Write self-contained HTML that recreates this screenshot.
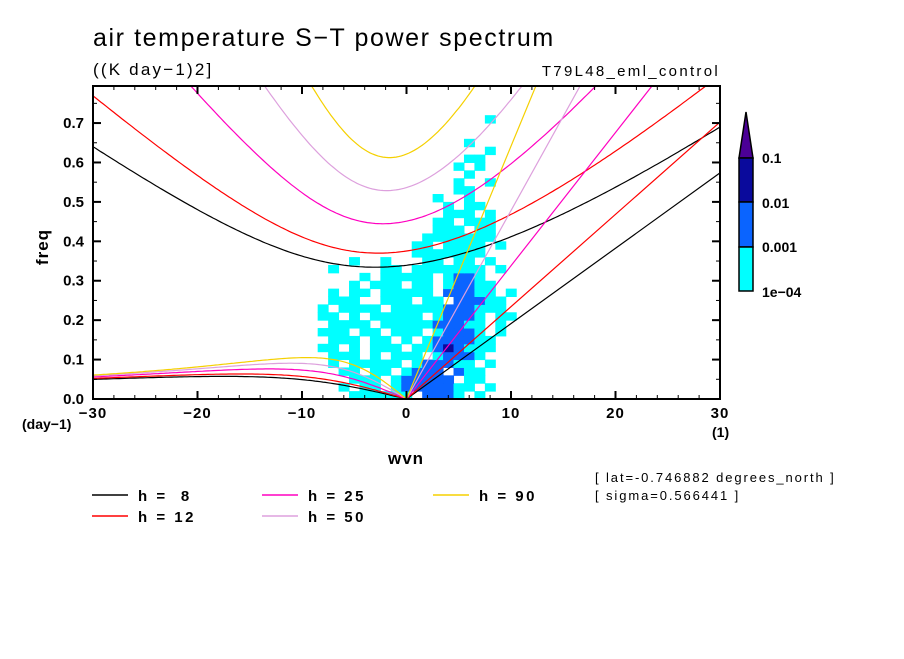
<!DOCTYPE html>
<html><head><meta charset="utf-8"><style>
html,body{margin:0;padding:0;background:#fff;}
svg text{font-family:"Liberation Sans","DejaVu Sans",sans-serif;fill:#000;}
</style></head><body>
<svg id="chart" width="904" height="654" viewBox="0 0 904 654" xmlns="http://www.w3.org/2000/svg">
<defs><clipPath id="clip"><rect x="93" y="86" width="627" height="313"/></clipPath></defs>
<text x="93" y="46" font-size="25" letter-spacing="1.6">air temperature S−T power spectrum</text>
<text x="93" y="75" font-size="17" letter-spacing="2.2">((K day−1)2]</text>
<text x="720" y="76" font-size="15" letter-spacing="2.3" text-anchor="end">T79L48_eml_control</text>
<g id="cells" clip-path="url(#clip)"></g>
<g id="curves" clip-path="url(#clip)"></g>
<g id="axes"></g>
<text x="0" y="0" font-size="17" font-weight="bold" letter-spacing="1" transform="translate(48,247) rotate(-90)" text-anchor="middle">freq</text>
<text x="406" y="464" font-size="17" font-weight="bold" letter-spacing="1" text-anchor="middle">wvn</text>
<text x="22" y="429" font-size="14" font-weight="bold">(day−1)</text>
<text x="712" y="437" font-size="14" font-weight="bold">(1)</text>
<g>
<polygon points="739,158 746,112 753,158" fill="#4b0096" stroke="#000" stroke-width="1.5"/>
<rect x="739" y="158" width="14" height="44" fill="#0a0a9c" stroke="#000" stroke-width="1.5"/>
<rect x="739" y="202" width="14" height="45" fill="#0a64ff" stroke="#000" stroke-width="1.5"/>
<rect x="739" y="247" width="14" height="44" fill="#00ffff" stroke="#000" stroke-width="1.5"/>
<text x="762" y="163" font-size="14" font-weight="bold">0.1</text>
<text x="762" y="208" font-size="14" font-weight="bold">0.01</text>
<text x="762" y="252" font-size="14" font-weight="bold">0.001</text>
<text x="762" y="297" font-size="14" font-weight="bold">1e−04</text>
</g>
<text x="595" y="482" font-size="13" letter-spacing="1.9">[ lat=-0.746882 degrees_north ]</text>
<text x="595" y="500" font-size="13" letter-spacing="1.9">[ sigma=0.566441 ]</text>
<g id="legend"></g>
</svg>
<script>
// data
const depths = [8, 12, 25, 50, 90];
const depthColors = ["#000000", "#ff0000", "#ff00c0", "#dda0dd", "#f5d000"];
const xTicks = [-30, -20, -10, 0, 10, 20, 30];
const yTicks = [0.0, 0.1, 0.2, 0.3, 0.4, 0.5, 0.6, 0.7];
const cellK0 = -9;        // first wavenumber column
const cellDf = 0.02;      // frequency bin size
// rows from freq 0 upward; columns k=-9..12; 1=cyan 2=blue 3=dark blue
const cellRows = [
"    111111 2221 1     ",
"   1 11 12222211 1    ",
"    111 122222 11     ",
"   11 11 1222 211     ",
"  1 11111 122211 1    ",
"  111 1 111 12221     ",
" 11 1 111 11232111    ",
"  111 11 1 1222211    ",
" 111 11 111 12221 1   ",
"  1111 1111122211 1   ",
" 11 1 11111 12221 11  ",
" 1 1111 11111222111   ",
"  111  111 11 22211   ",
"  1 11 11111 22211 1  ",
"    1 111 11 12211    ",
"     1 11111 1221     ",
"  1    11 1111111 1   ",
"    1  1   11 11 1    ",
"          1111111     ",
"          11 1111 1   ",
"           1111111    ",
"            111 11    ",
"            11 111    ",
"             111 1    ",
"             1 11     ",
"            1  1      ",
"              11      ",
"              1  1    ",
"               1      ",
"              1 1     ",
"               11     ",
"                 1    ",
"               1      ",
"                      ",
"                      ",
"                 1    "
];
const cellColors = ["none", "#00ffff", "#0a64ff", "#0a0a9c"];

const NS = "http://www.w3.org/2000/svg";
const X0 = 93, X1 = 720, Y0 = 399, Y1 = 86;
const KMIN = -30, KMAX = 30, FMIN = 0, FMAX = 0.794;
function xs(k) { return X0 + (k - KMIN) / (KMAX - KMIN) * (X1 - X0); }
function ys(f) { return Y0 - (f - FMIN) / (FMAX - FMIN) * (Y0 - Y1); }
function mk(tag, attrs, parent) {
  const e = document.createElementNS(NS, tag);
  for (const a in attrs) e.setAttribute(a, attrs[a]);
  parent.appendChild(e); return e;
}

const cellsG = document.getElementById('cells');
cellRows.forEach((row, i) => {
  for (let j = 0; j < row.length; j++) {
    const lv = row[j] === ' ' ? 0 : parseInt(row[j]);
    if (!lv) continue;
    const k = cellK0 + j;
    const x = xs(k - 0.5), x2 = xs(k + 0.5);
    const y = ys((i + 1) * cellDf), y2 = ys(i * cellDf);
    const r = mk('rect', {x: x, y: y, width: x2 - x + 0.5, height: y2 - y + 0.5, fill: cellColors[lv]}, cellsG);
    
    
  }
});

// dispersion curves (equatorial shallow-water theory, n=1 and Kelvin)
const g = 9.81, R = 6.371e6, beta = 2.29e-11, cpd = 86400 / (2 * Math.PI);
function solve(kw, c, w0) {
  const k = kw / R;
  let w = w0;
  for (let it = 0; it < 60; it++) {
    const f = w * w * w - (k * k * c * c + 3 * beta * c) * w - beta * k * c * c;
    const d = 3 * w * w - (k * k * c * c + 3 * beta * c);
    w -= f / d;
  }
  return w;
}
const curvesG = document.getElementById('curves');
depths.forEach((h, idx) => {
  const c = Math.sqrt(g * h);
  const col = depthColors[idx];
  let pts = [];
  for (let kw = -30; kw <= 30.001; kw += 0.25) {
    const k = kw / R;
    const w = solve(kw, c, Math.sqrt(k * k * c * c + 3 * beta * c) * 1.2);
    pts.push(xs(kw).toFixed(1) + ',' + ys(w * cpd).toFixed(1));
  }
  let p = mk('polyline', {points: pts.join(' '), fill: 'none', stroke: col, 'stroke-width': 1.2}, curvesG);
  
  
  pts = [];
  for (let kw = -30; kw <= 0.001; kw += 0.25) {
    const k = kw / R;
    const w = kw === 0 ? 0 : solve(kw, c, -beta * k / (k * k + 3 * beta / c));
    pts.push(xs(kw).toFixed(1) + ',' + ys(w * cpd).toFixed(1));
  }
  p = mk('polyline', {points: pts.join(' '), fill: 'none', stroke: col, 'stroke-width': 1.2}, curvesG);
  
  
  const fk = c * (30 / R) * cpd;
  p = mk('line', {x1: xs(0), y1: ys(0), x2: xs(30), y2: ys(fk), stroke: col, 'stroke-width': 1.2}, curvesG);
  
  
});

const ax = document.getElementById('axes');
let fr = mk('rect', {x: X0, y: Y1, width: X1 - X0, height: Y0 - Y1, fill: 'none', stroke: '#000', 'stroke-width': 2}, ax);


for (let k = -30; k <= 30; k += 2) {
  const major = k % 10 === 0, L = major ? 8 : 4;
  mk('line', {x1: xs(k), y1: Y0, x2: xs(k), y2: Y0 - L, stroke: '#000', 'stroke-width': major ? 2 : 1}, ax);
  mk('line', {x1: xs(k), y1: Y1, x2: xs(k), y2: Y1 + L, stroke: '#000', 'stroke-width': major ? 2 : 1}, ax);
}
for (let f = 0.05; f < FMAX; f += 0.1) {
  mk('line', {x1: X0, y1: ys(f), x2: X0 + 4, y2: ys(f), stroke: '#000'}, ax);
  mk('line', {x1: X1, y1: ys(f), x2: X1 - 4, y2: ys(f), stroke: '#000'}, ax);
}
yTicks.forEach(v => {
  mk('line', {x1: X0, y1: ys(v), x2: X0 + 8, y2: ys(v), stroke: '#000', 'stroke-width': 2}, ax);
  mk('line', {x1: X1, y1: ys(v), x2: X1 - 8, y2: ys(v), stroke: '#000', 'stroke-width': 2}, ax);
  const t = mk('text', {x: 84, y: ys(v) + 5, 'font-size': 15, 'font-weight': 'bold', 'text-anchor': 'end'}, ax);
  t.textContent = v.toFixed(1);
  
  
});
xTicks.forEach(v => {
  const t = mk('text', {x: xs(v), y: 418, 'font-size': 15, 'font-weight': 'bold', 'letter-spacing': 1, 'text-anchor': 'middle'}, ax);
  t.textContent = v < 0 ? '−' + Math.abs(v) : String(v);
  
  
});

const lg = document.getElementById('legend');
const legPos = [[92, 495], [92, 516], [262, 495], [262, 516], [433, 495]];
depths.forEach((h, i) => {
  const [x, y] = legPos[i];
  const e = mk('g', {}, lg);
  
  
  mk('line', {x1: x, y1: y, x2: x + 36, y2: y, stroke: depthColors[i], 'stroke-width': 1.5}, e);
  const t = mk('text', {x: x + 46, y: y + 6, 'font-size': 15, 'font-weight': 'bold', 'letter-spacing': 2.5}, e);
  t.setAttribute('style', 'white-space:pre');
  t.textContent = 'h = ' + (h < 10 ? ' ' + h : h);
});
</script>
</body></html>
